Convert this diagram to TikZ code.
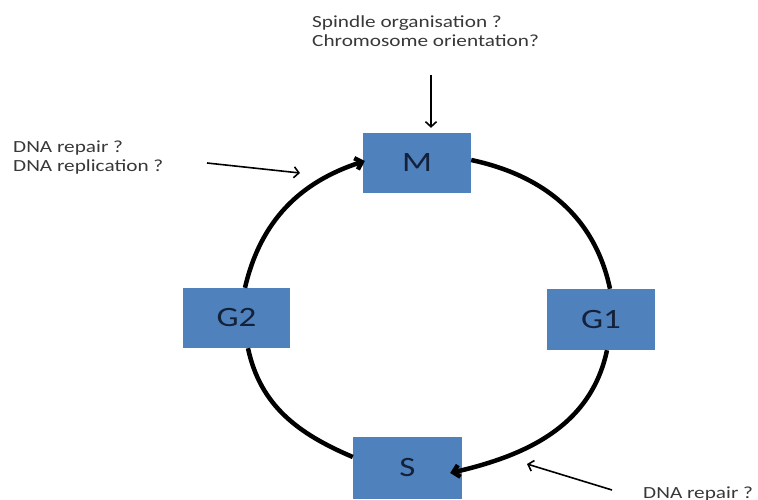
\documentclass[tikz,border=0pt]{standalone}
\usepackage{fontspec}
\setmainfont{Carlito}[FakeStretch=1.25]
\usetikzlibrary{arrows.meta}
\definecolor{phase}{HTML}{4F81BD}
\definecolor{phasetext}{HTML}{14213A}
\definecolor{note}{HTML}{383838}
\begin{document}
\begin{tikzpicture}[x=1pt,y=1pt,
  phasebox/.style={fill=phase, minimum width=108pt, minimum height=60pt,
    inner sep=0pt, text=phasetext, font=\fontsize{28}{28}\selectfont},
  notetext/.style={text=note, font=\fontsize{17}{19}\selectfont,
    align=left, inner sep=0pt},
  cycleline/.style={line width=4.5pt},
  cyclearrow/.style={cycleline, -{Straight Barb[length=6pt,width=12pt]}},
  hint/.style={line width=1.6pt, -{Straight Barb[length=5pt,width=11pt]}}]
\useasboundingbox (0,0) rectangle (758,499);

% cell-cycle phases
\node[phasebox] (M)  at (417,336)   {M};
\node[phasebox, minimum width=107pt] (G2) at (236.5,181) {G2};
\node[phasebox, minimum height=61pt] (G1) at (601,179.5) {G1};
\node[phasebox, minimum width=109pt, minimum height=62pt] (S) at (407.5,31) {S};

% the cycle
\draw[cyclearrow] ([xshift=8.5pt]G2.north) to[out=77,in=198] ([xshift=2pt,yshift=2pt]M.west);
\draw[cycleline] ([yshift=3pt]M.east) to[out=-12,in=102] ([xshift=9pt]G1.north);
\draw[cyclearrow] ([xshift=6pt]G1.south) to[out=-102,in=13] ([xshift=-12pt,yshift=-5pt]S.east);
\draw[cycleline] ([xshift=11.5pt]G2.south) to[out=-78,in=157] ([yshift=11pt]S.west);

% questions
\node[notetext, anchor=base west] (spindle) at (312,452)
  {Spindle organisation ?\\Chromosome orientation?};
\node[notetext, anchor=base west] (dnaleft) at (13,327)
  {DNA repair ?\\DNA replication ?};
\node[notetext, anchor=base west] (dnaright) at (643,1) {DNA repair ?};

% pointers
\coordinate (topstart) at (431,424);
\coordinate (leftstart) at (207,336);
\coordinate (lefttip) at (300,326);
\coordinate (rightstart) at (612,9);
\coordinate (righttip) at (527,35);
\draw[hint] (topstart) -- ([xshift=14pt,yshift=5pt]M.north);
\draw[hint] (leftstart) -- (lefttip);
\draw[hint] (rightstart) -- (righttip);
\end{tikzpicture}
\end{document}
